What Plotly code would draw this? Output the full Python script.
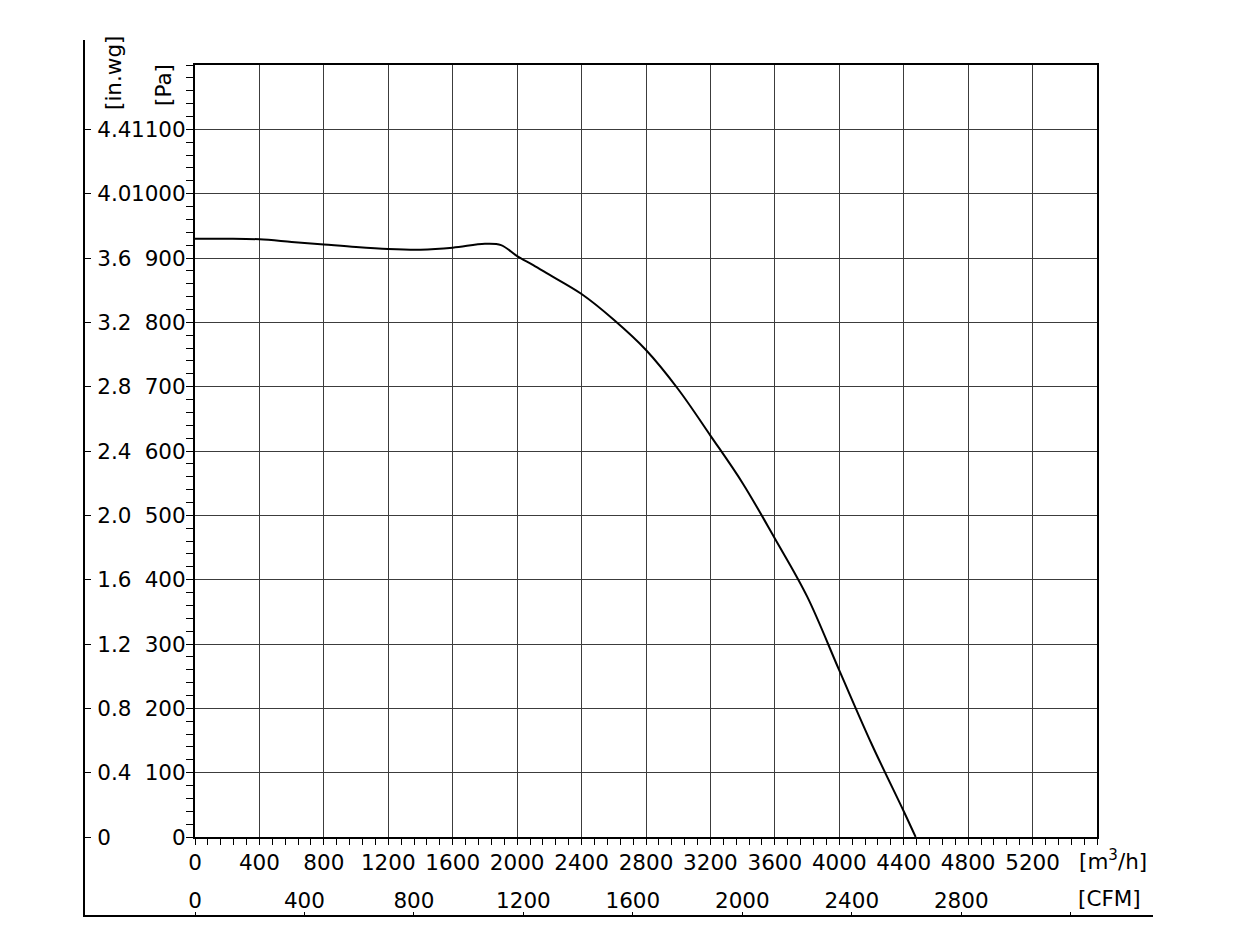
import plotly.graph_objects as go

# fan curve (values at regular flow steps)
flow_m3h = [0, 200, 400, 600, 800, 1000, 1200, 1400, 1600, 1800, 1900, 2000,
            2100, 2200, 2400, 2600, 2800, 3000, 3200, 3400, 3600, 3800, 4000,
            4200, 4400, 4474]
pressure_pa = [930, 930, 929, 925, 921, 917, 914, 913, 916, 922, 920, 903,
               889, 874, 844, 804, 757, 696, 624, 550, 464, 374, 259,
               145, 40, 0]

pa_ticks = [0, 100, 200, 300, 400, 500, 600, 700, 800, 900, 1000, 1100]
inwg_labels = ["0", "0.4", "0.8", "1.2", "1.6", "2.0", "2.4", "2.8", "3.2", "3.6", "4.0", "4.4"]
m3h_ticks = [0, 400, 800, 1200, 1600, 2000, 2400, 2800, 3200, 3600, 4000, 4400, 4800, 5200]
cfm_ticks = [0, 400, 800, 1200, 1600, 2000, 2400, 2800, 3200]
cfm_labels = ["0", "400", "800", "1200", "1600", "2000", "2400", "2800", ""]

M3H_PER_CFM = 1.69901
X_MAX = 5600
Y_MAX = 1200

W, H = 1237, 947
ML, MR, MT, MB = 52, 148, 22, 28
PW, PH = W - ML - MR, H - MT - MB
OFF = 8  # page margin of the html body


def px(x):
    return (x - OFF - ML) / PW


def py(y):
    return (H - MB - (y - OFF)) / PH


font = dict(family="DejaVu Sans, Verdana, sans-serif", size=21.5, color="black")
grid = "#3c3c3c"

fig = go.Figure()
fig.add_trace(go.Scatter(
    x=flow_m3h, y=pressure_pa, mode="lines",
    line=dict(color="black", width=2, shape="spline", smoothing=1.0),
    showlegend=False, hoverinfo="x+y"
))
# invisible traces so the extra axes get drawn
fig.add_trace(go.Scatter(x=[0], y=[0], xaxis="x2", yaxis="y", mode="markers",
                         marker=dict(opacity=0), showlegend=False, hoverinfo="skip"))
fig.add_trace(go.Scatter(x=[0], y=[0], xaxis="x", yaxis="y2", mode="markers",
                         marker=dict(opacity=0), showlegend=False, hoverinfo="skip"))

fig.update_layout(
    width=W, height=H,
    margin=dict(l=ML, r=MR, t=MT, b=MB),
    paper_bgcolor="white", plot_bgcolor="white",
    font=font,
    xaxis=dict(
        domain=[px(195), px(1097)], range=[0, X_MAX],
        tickvals=m3h_ticks, ticks="outside", ticklen=6, tickcolor="black",
        showgrid=True, gridcolor=grid, gridwidth=1, zeroline=False,
        showline=True, linecolor="black", linewidth=2, mirror=True,
        minor=dict(dtick=80, ticklen=6, tickcolor="black", ticks="outside", showgrid=False),
        ticklabelstandoff=-1,
    ),
    yaxis=dict(
        domain=[py(837), py(65)], range=[0, Y_MAX],
        tickvals=pa_ticks, ticks="outside", ticklen=7, tickcolor="black",
        showgrid=True, gridcolor=grid, gridwidth=1, zeroline=False,
        showline=True, linecolor="black", linewidth=2, mirror=True,
        minor=dict(dtick=20, ticklen=7, tickcolor="black", ticks="outside", showgrid=False),
        ticklabelstandoff=-4,
    ),
    xaxis2=dict(
        overlaying="x", anchor="free", position=py(916), side="top",
        range=[0, X_MAX / M3H_PER_CFM],
        tickvals=cfm_ticks, ticktext=cfm_labels,
        ticks="outside", ticklen=4, tickcolor="black",
        showgrid=False, zeroline=False, showline=False,
        ticklabelstandoff=-5,
    ),
    yaxis2=dict(
        overlaying="y", anchor="free", position=px(84), side="right",
        range=[0, Y_MAX],
        tickvals=pa_ticks, ticktext=inwg_labels,
        ticks="outside", ticklen=6, tickcolor="black",
        showgrid=False, zeroline=False, showline=False,
        ticklabelstandoff=2,
    ),
)

# outer frame lines for the in.wg and CFM scales
fig.add_shape(type="path", xref="paper", yref="paper",
              path=f"M {px(84)} {py(40)} L {px(84)} {py(916)} L {px(1153)} {py(916)}",
              line=dict(color="black", width=2))

for txt, x, y, ang in [("[in.wg]", 113, 73, -90), ("[Pa]", 163, 85, -90),
                       ("[m<sup>3</sup>/h]", 1113, 860, 0), ("[CFM]", 1109, 898, 0)]:
    fig.add_annotation(text=txt, xref="paper", yref="paper", x=px(x), y=py(y),
                       xanchor="center", yanchor="middle", textangle=ang,
                       showarrow=False, font=font)

fig.write_html("out.html")
